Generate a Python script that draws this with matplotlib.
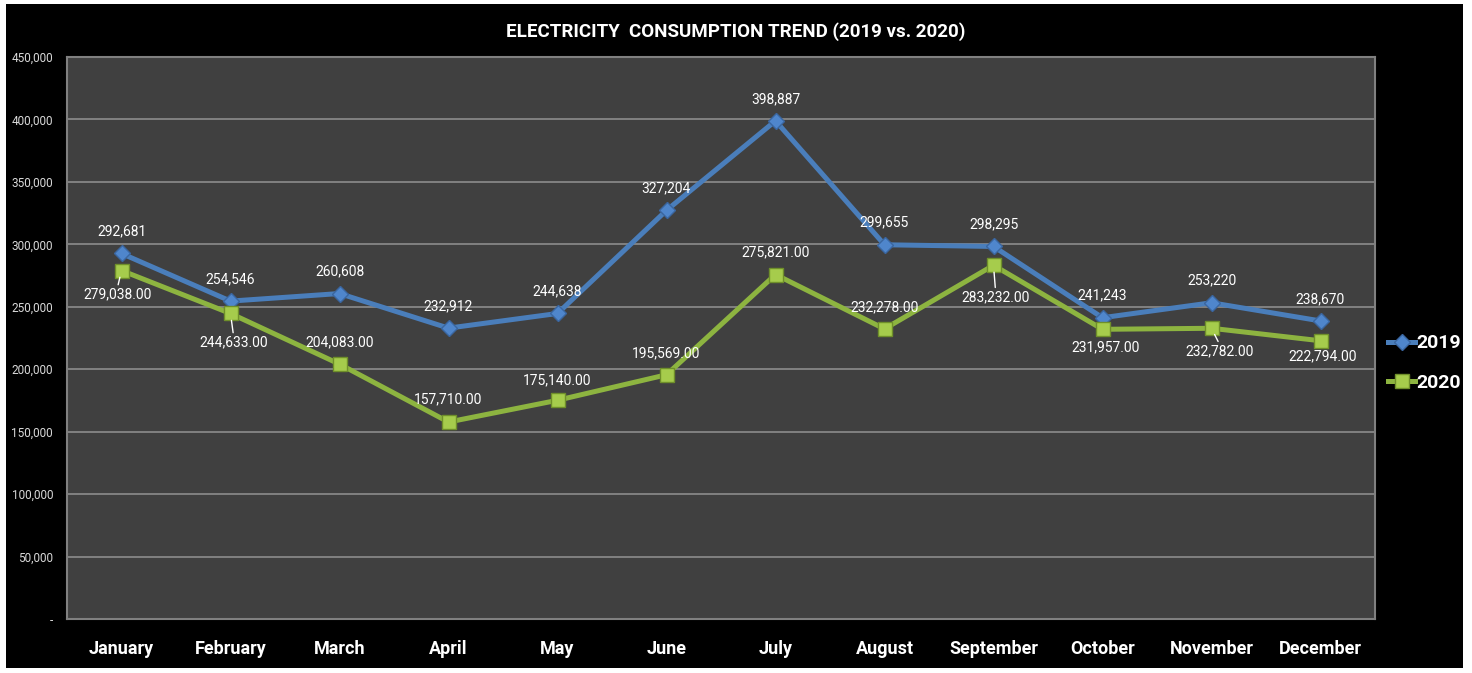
import matplotlib
matplotlib.use('Agg')
import matplotlib.pyplot as plt
from matplotlib.patches import Rectangle
from matplotlib.ticker import FuncFormatter

plt.rcParams['font.family'] = ['Liberation Sans Narrow', 'Roboto', 'DejaVu Sans']

# 데이터
months = ['January', 'February', 'March', 'April', 'May', 'June',
          'July', 'August', 'September', 'October', 'November', 'December']
y2019 = [292681, 254546, 260608, 232912, 244638, 327204,
         398887, 299655, 298295, 241243, 253220, 238670]
y2020 = [279038.00, 244633.00, 204083.00, 157710.00, 175140.00, 195569.00,
         275821.00, 232278.00, 283232.00, 231957.00, 232782.00, 222794.00]

# 데이터 라벨 위치 (픽셀 단위 오프셋)
off2019 = [(0, 22)] * 12
off2020 = [(-4, -24), (3, -29), (0, 22), (0, 23), (0, 20), (0, 21),
           (0, 22), (0, 22), (2, -32), (3, -18), (8, -23), (2, -16)]
leader2020 = [True, True, False, False, False, False,
              False, False, True, False, True, False]

fig = plt.figure(figsize=(14.72, 6.73), dpi=100, facecolor='white')
# 검은 배경 영역
fig.patches.append(Rectangle((6 / 1472, 5 / 673), 1457 / 1472, 664 / 673,
                             transform=fig.transFigure, facecolor='black',
                             edgecolor='none', zorder=-10))

ax = fig.add_axes([67 / 1472, 1 - 619 / 673, 1308 / 1472, 562 / 673])
ax.set_zorder(5)
ax.set_facecolor('#404040')
for s in ax.spines.values():
    s.set_color('#808080')
    s.set_linewidth(1.5)

x = list(range(len(months)))
ax.plot(x, y2019, color='#4a7ebb', lw=3.6, marker='D', markersize=8,
        markerfacecolor='#4f86cc', markeredgecolor='#3a66a0', label='2019', zorder=3)
ax.plot(x, y2020, color='#8db440', lw=3.6, marker='s', markersize=10,
        markerfacecolor='#a6cc4c', markeredgecolor='#6f8f2a', label='2020', zorder=3)

ax.set_xlim(-0.5, len(months) - 0.5)
ax.set_ylim(0, 450000)
ax.set_yticks(range(0, 450001, 50000))
ax.yaxis.set_major_formatter(FuncFormatter(lambda v, p: '-' if v == 0 else f'{int(v):,}'))
ax.grid(axis='y', color='#8c8c8c', lw=1.2)
ax.set_axisbelow(True)
ax.set_xticks(x)
ax.set_xticklabels(months, fontsize=13, fontweight='bold', color='white')
ax.tick_params(axis='x', length=0, pad=15)
ax.tick_params(axis='y', length=0, pad=10, labelsize=8.5, labelcolor='#d9d9d9')

for i, v in enumerate(y2019):
    ax.annotate(f'{v:,}', (i, v), xytext=off2019[i], textcoords='offset pixels',
                ha='center', va='center', color='white', fontsize=10, zorder=4)

for i, v in enumerate(y2020):
    kw = {}
    if leader2020[i]:
        kw['arrowprops'] = dict(arrowstyle='-', color='white', lw=1,
                                shrinkA=0, shrinkB=5, relpos=(0.5, 1))
    ax.annotate(f'{v:,.2f}', (i, v), xytext=off2020[i], textcoords='offset pixels',
                ha='center', va='center', color='white', fontsize=10, zorder=4, **kw)

fig.text(0.5, 1 - 32 / 673, 'ELECTRICITY  CONSUMPTION TREND (2019 vs. 2020)',
         ha='center', va='center', color='white', fontsize=13.5, fontweight='bold')

leg = fig.legend(loc='center left', bbox_to_anchor=(1384 / 1472, 1 - 363 / 673),
                 frameon=False, fontsize=14, handlelength=1.4, handletextpad=0.05,
                 labelspacing=1.1, borderaxespad=0, borderpad=0.2)
for t in leg.get_texts():
    t.set_color('white')
    t.set_fontweight('bold')

fig.savefig('out.png', dpi=100, facecolor=fig.get_facecolor())
